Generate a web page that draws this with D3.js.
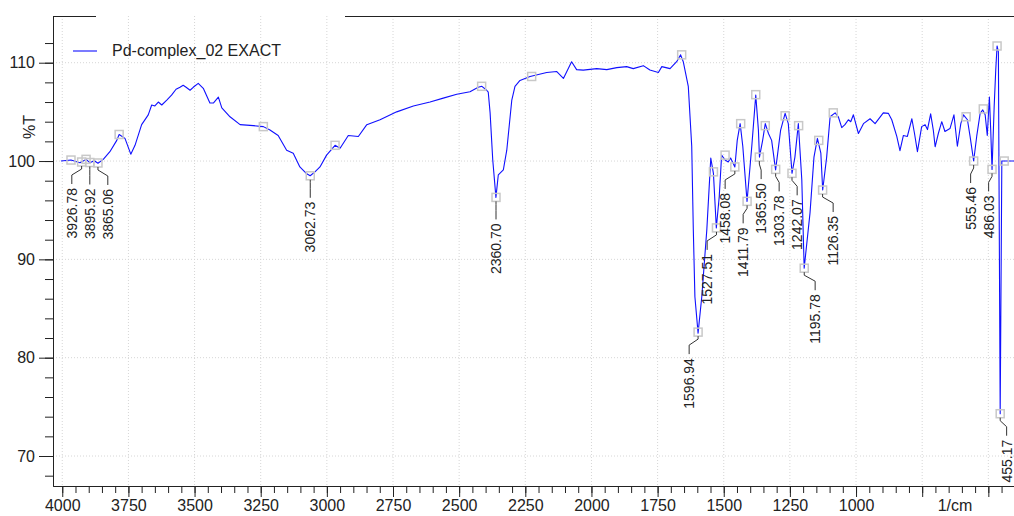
<!DOCTYPE html>
<html>
<head>
<meta charset="utf-8">
<script src="https://cdn.jsdelivr.net/npm/d3@7"></script>
<style>
    body { margin: 0; background: #fff; }
    svg text { font-family: "Liberation Sans", Arial, sans-serif; fill: #222; }
</style>
</head>
<body>
<div id="chart"></div>
<script>
//////////////////////////////////////////////////////////////////////////////////////
"///////DATA READ OFF THE SPECTRUM: [wavenumber 1/cm, %T]////////"
//////////////////////////////////////////////////////////////////////////////////////
const seriesName = 'Pd-complex_02 EXACT'
const xUnitLabel = '1/cm'
const yTitle = '%T'

const spectrum = [
    [4005,100.0],[3967,100.1],[3933,99.83],[3910,100.17],[3896,99.83],[3879,100.03],[3865,99.77],[3845,100.17],
    [3820,100.95],[3794,102.1],[3785,102.7],[3763,102.3],[3741,100.7],[3725,101.6],[3700,103.7],[3675,104.7],
    [3662,105.7],[3650,105.6],[3637,106.0],[3624,105.7],[3605,106.2],[3587,106.7],[3570,107.3],[3555,107.5],
    [3543,107.7],[3532,107.5],[3517,107.2],[3505,107.5],[3486,107.9],[3467,107.4],[3442,105.9],[3429,105.9],
    [3410,106.5],[3397,105.4],[3366,104.5],[3328,103.7],[3278,103.6],[3240,103.5],[3215,103.15],[3184,102.6],
    [3152,101.1],[3127,100.8],[3102,99.4],[3076,98.7],[3063,98.5],[3045,98.9],[3026,99.4],[3001,100.6],
    [2969,101.6],[2950,101.3],[2919,102.6],[2881,102.5],[2849,103.7],[2799,104.2],[2736,105.0],[2673,105.6],
    [2610,106.0],[2560,106.4],[2509,106.8],[2459,107.05],[2428,107.5],[2414,107.6],[2396,107.2],[2390,107.0],
    [2383,104.9],[2373,100.1],[2361,96.3],[2352,98.6],[2333,99.1],[2320,101.1],[2301,106.2],[2289,107.6],
    [2270,108.2],[2232,108.6],[2169,109.0],[2131,109.1],[2106,108.4],[2075,110.1],[2056,109.3],[2031,109.25],
    [1980,109.4],[1942,109.3],[1904,109.5],[1867,109.6],[1842,109.4],[1804,109.7],[1779,109.25],[1747,109.0],
    [1734,109.6],[1703,109.4],[1678,110.1],[1663,110.8],[1653,110.1],[1634,107.6],[1621,101.5],[1615,93.0],
    [1609,86.2],[1597,82.5],[1583,86.2],[1564,93.0],[1549,100.3],[1539,98.75],[1528,93.2],[1517,96.4],
    [1508,100.6],[1495,100.1],[1483,99.9],[1474,100.3],[1458,99.4],[1449,102.1],[1438,103.8],[1428,101.5],
    [1412,95.9],[1394,101.5],[1379,106.7],[1369,103.15],[1365,100.4],[1353,102.1],[1343,103.8],[1331,102.8],
    [1319,102.1],[1304,99.1],[1285,103.15],[1268,104.85],[1256,103.8],[1242,98.75],[1231,100.4],[1218,103.8],
    [1205,98.1],[1196,89.1],[1174,94.7],[1159,100.4],[1146,102.3],[1133,100.8],[1126,97.05],[1111,100.4],
    [1098,104.5],[1079,104.9],[1067,104.5],[1054,103.4],[1042,103.7],[1029,104.2],[1020,104.0],[1010,104.7],
    [991,102.8],[972,103.8],[947,104.3],[928,103.8],[897,104.9],[878,104.85],[865,104.2],[846,102.5],
    [834,101.05],[821,102.6],[806,102.5],[789,104.3],[779,102.8],[768,100.95],[752,103.5],[739,103.7],
    [730,103.2],[718,104.8],[708,103.15],[701,101.45],[689,102.8],[676,104.0],[664,103.0],[645,103.3],
    [630,104.7],[617,101.5],[604,103.8],[594,104.7],[579,104.2],[569,102.5],[555.5,100.0],[544,102.5],
    [531,104.85],[521,105.2],[512,104.7],[504,102.6],[496,106.5],[491,103.15],[486,99.15],[478,105.5],
    [472,109.25],[467,111.7],[462,111.1],[455.2,74.3],[449,100],[440,100],[400,100]
]

// picked peaks with a label
const labeledPeaks = [
    [3926.78,99.9],[3895.92,99.85],[3865.06,99.8],[3062.73,98.5],[2360.70,96.3],[1596.94,82.6],
    [1527.51,93.2],[1458.08,99.4],[1411.79,95.9],[1365.50,100.4],[1303.78,99.15],[1242.07,98.75],
    [1195.78,89.1],[1126.35,97.05],[555.46,100.0],[486.03,99.15],[455.17,74.3]
]

// picked points without a label (grey boxes only)
const otherMarkers = [
    [3967,100.1],[3910,100.17],[3785,102.7],[3240,103.5],[2969,101.6],[2415,107.6],[2226,108.6],
    [1659,110.8],[1539,98.9],[1495,100.6],[1436,103.8],[1379,106.75],[1343,103.6],[1268,104.6],
    [1217,103.6],[1141,102.1],[1086,104.9],[584,104.5],[519,105.3],[467,111.7],[440,100]
]

const xMajorTicks = [4000,3750,3500,3250,3000,2750,2500,2250,2000,1750,1500,1250,1000,750,500]
const xLabeledTicks = [4000,3750,3500,3250,3000,2750,2500,2250,2000,1750,1500,1250,1000]
const yMajorTicks = [70,80,90,100,110]

//////////////////////////////////////////////////////////////////////////////////////
"///////CHART CLASS////////"
//////////////////////////////////////////////////////////////////////////////////////
class SpectrumChart{
    constructor(_div,_width,_height){
        this.width = _width
        this.height = _height
        this.left = 53
        this.right = 1014
        this.top = 16
        this.bottom = 486

        this.x = d3.scaleLinear().domain([4035, 403]).range([this.left, this.right])
        this.y = d3.scaleLinear().domain([66.95, 114.75]).range([this.bottom, this.top])

        this.svg = d3.select(_div).append('svg')
            .attr('width', this.width)
            .attr('height', this.height)

        this.svg.append('defs').append('clipPath').attr('id','plotClip')
            .append('rect')
            .attr('x', this.left).attr('y', this.top)
            .attr('width', this.right - this.left).attr('height', this.bottom - this.top)

        this.gridGroup = this.svg.append('g').attr('id','grid')
        this.axisGroup = this.svg.append('g').attr('id','axes')
        this.lineGroup = this.svg.append('g').attr('id','spectrum').attr('clip-path','url(#plotClip)')
        this.peakGroup = this.svg.append('g').attr('id','peaks')
        this.legendGroup = this.svg.append('g').attr('id','legend')
    }

    spreadLabels(_xs, _gap){
        // pushes overlapping labels apart, keeping each cluster centred on its peaks
        let groups = []
        for (let x of _xs){
            groups.push({sum: x, n: 1})
            while (groups.length > 1){
                let g = groups[groups.length - 1]
                let p = groups[groups.length - 2]
                let gStart = g.sum / g.n - (g.n - 1) * _gap / 2
                let pEnd = p.sum / p.n + (p.n - 1) * _gap / 2
                if (gStart - pEnd < _gap){
                    p.sum += g.sum
                    p.n += g.n
                    groups.pop()
                } else {
                    break
                }
            }
        }
        let out = []
        for (let g of groups){
            let c = g.sum / g.n
            for (let i = 0; i < g.n; i++){
                out.push(c + (i - (g.n - 1) / 2) * _gap)
            }
        }
        return out
    }

    draw(){
        let x = this.x
        let y = this.y
        let _this = this

        '///////GRID////////'
        this.gridGroup.selectAll('.vGrid').data(xMajorTicks).enter().append('line')
            .attr('class','vGrid')
            .attr('x1', d => x(d)).attr('x2', d => x(d))
            .attr('y1', this.top).attr('y2', this.bottom)
        this.gridGroup.selectAll('.hGrid').data(yMajorTicks).enter().append('line')
            .attr('class','hGrid')
            .attr('x1', this.left).attr('x2', this.right)
            .attr('y1', d => y(d)).attr('y2', d => y(d))
        this.gridGroup.selectAll('line')
            .attr('stroke','#d6d6d6')
            .attr('stroke-width',1)
            .attr('stroke-dasharray','1,2')

        '///////AXES////////'
        let xMinor = d3.axisBottom(x).tickValues(d3.range(450, 4001, 50))
            .tickSize(7).tickSizeOuter(0).tickFormat('')
        let xMajor = d3.axisBottom(x).tickValues(xMajorTicks)
            .tickSize(11).tickSizeOuter(0).tickPadding(3)
            .tickFormat(d => xLabeledTicks.includes(d) ? d : '')
        let yMinor = d3.axisLeft(y).tickValues(d3.range(68, 113, 2))
            .tickSize(8).tickSizeOuter(0).tickFormat('')
        let yMajor = d3.axisLeft(y).tickValues(yMajorTicks)
            .tickSize(14).tickSizeOuter(0).tickPadding(4)

        let gxMinor = this.axisGroup.append('g').attr('transform','translate(0,' + this.bottom + ')').call(xMinor)
        let gxMajor = this.axisGroup.append('g').attr('transform','translate(0,' + this.bottom + ')').call(xMajor)
        let gyMinor = this.axisGroup.append('g').attr('transform','translate(' + this.left + ',0)').call(yMinor)
        let gyMajor = this.axisGroup.append('g').attr('transform','translate(' + this.left + ',0)').call(yMajor)
        for (let g of [gxMinor, gxMajor, gyMinor, gyMajor]){
            g.selectAll('path,line').attr('stroke','#222')
            g.selectAll('text').attr('fill','#222').style('font-size','16px')
        }

        // top frame line, broken where the title box sits
        this.axisGroup.append('line')
            .attr('x1', this.left).attr('x2', 96).attr('y1', this.top + 0.5).attr('y2', this.top + 0.5)
            .attr('stroke','#222')
        this.axisGroup.append('line')
            .attr('x1', 345).attr('x2', this.right).attr('y1', this.top + 0.5).attr('y2', this.top + 0.5)
            .attr('stroke','#222')

        this.axisGroup.append('text')
            .text(xUnitLabel)
            .attr('x', 955).attr('y', this.bottom + 14)
            .attr('dy','0.71em')
            .attr('text-anchor','middle')
            .style('font-size','16px')

        this.axisGroup.append('text')
            .text(yTitle)
            .attr('transform','translate(29,127) rotate(-90)')
            .attr('dy','0.35em')
            .attr('text-anchor','middle')
            .style('font-size','16px')

        '///////SPECTRUM LINE////////'
        let line = d3.line().x(d => x(d[0])).y(d => y(d[1]))
        this.lineGroup.append('path')
            .datum(spectrum)
            .attr('d', line)
            .attr('fill','none')
            .attr('stroke','#1010ff')
            .attr('stroke-width',1.1)
            .attr('stroke-linejoin','round')

        '///////PEAK MARKERS////////'
        let allMarkers = otherMarkers.concat(labeledPeaks)
        this.peakGroup.selectAll('.peakBox').data(allMarkers).enter().append('rect')
            .attr('class','peakBox')
            .attr('x', d => x(d[0]) - 4)
            .attr('y', d => y(d[1]) - 4)
            .attr('width',8).attr('height',8)
            .attr('fill','none')
            .attr('stroke','#c8c8c8')
            .attr('stroke-width',1.5)

        '///////PEAK LABELS AND LEADERS////////'
        let peaks = labeledPeaks.map(d => ({v: d[0], t: d[1], px: x(d[0]), py: y(d[1])}))
            .sort((a, b) => a.px - b.px)
        let labelXs = this.spreadLabels(peaks.map(d => d.px), 18)
        peaks.forEach((d, i) => { d.lx = labelXs[i] })

        this.peakGroup.selectAll('.leader').data(peaks).enter().append('path')
            .attr('class','leader')
            .attr('d', function(d){
                let pts = [
                    [d.px, d.py + 4],
                    [d.px, d.py + 7],
                    [d.lx, d.py + 13],
                    [d.lx, d.py + 22]
                ]
                return d3.line()(pts)
            })
            .attr('fill','none')
            .attr('stroke','#333')
            .attr('stroke-width',1)

        this.peakGroup.selectAll('.peakLabel').data(peaks).enter().append('text')
            .attr('class','peakLabel')
            .text(d => d.v.toFixed(2))
            .attr('transform', d => 'translate(' + d.lx + ',' + (d.py + 26) + ') rotate(-90)')
            .attr('dy','0.36em')
            .attr('text-anchor','end')
            .style('font-size','14px')

        '///////LEGEND////////'
        this.legendGroup.append('line')
            .attr('x1',73).attr('x2',97).attr('y1',51).attr('y2',51)
            .attr('stroke','#1010ff').attr('stroke-width',1.1)
        this.legendGroup.append('text')
            .text(seriesName)
            .attr('x',112).attr('y',56)
            .style('font-size','16px')
    }
}

let chart = new SpectrumChart('#chart', 1014, 516)
chart.draw()
</script>
</body>
</html>
